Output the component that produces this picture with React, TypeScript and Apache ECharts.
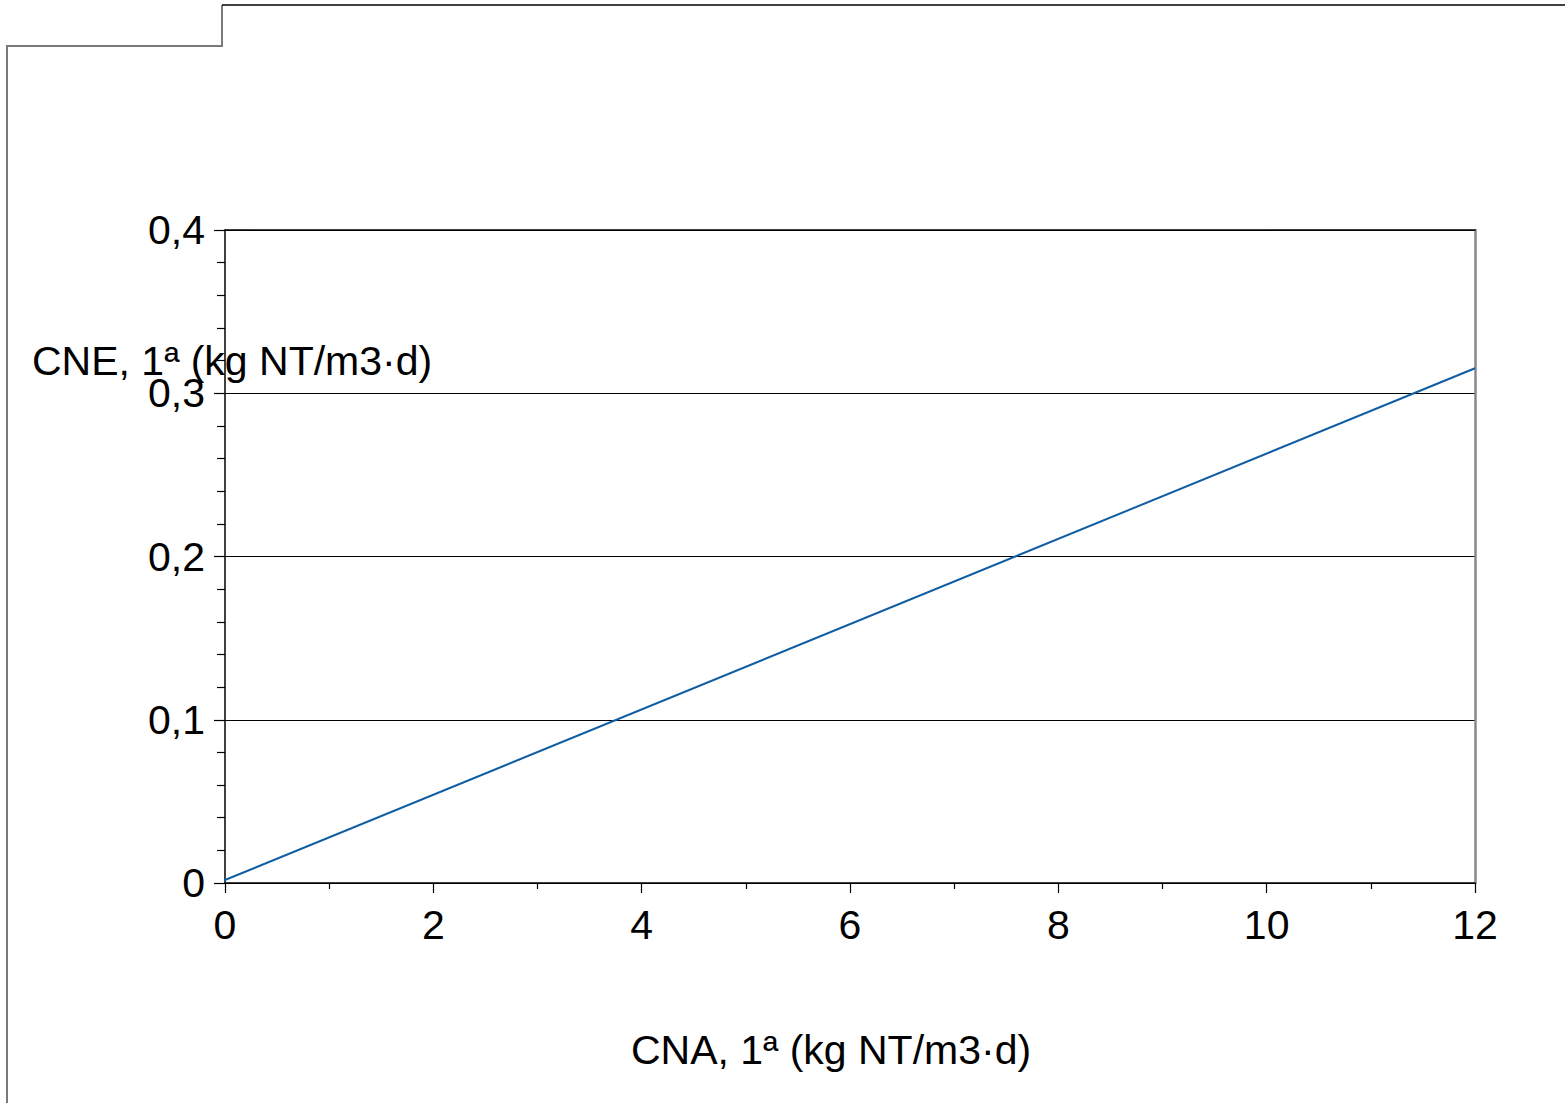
import React, { useEffect, useRef } from "react";
import * as echarts from "echarts";

const xTickLabels = ["0", "2", "4", "6", "8", "10", "12"];
const yTickLabels = ["0", "0,1", "0,2", "0,3", "0,4"];
const lineX = [-0.07, 12];
const lineY = [0, 0.3153];
const xTitle = "CNA, 1ª (kg NT/m3·d)";
const yTitle = "CNE, 1ª (kg NT/m3·d)";

const FONT = "'Liberation Sans', Arial, sans-serif";
const FS = 41;

export default function App() {
  const ref = useRef<HTMLDivElement>(null);
  useEffect(() => {
    if (!ref.current) return;
    const chart = echarts.init(ref.current, undefined, { renderer: "svg" });
    const data = lineX.map((x, i) => [x, lineY[i]]);
    chart.setOption({
      animation: false,
      backgroundColor: "#ffffff",
      grid: { left: 225, top: 230, right: 90, bottom: 220, containLabel: false },
      xAxis: [
        {
          type: "value",
          min: 0,
          max: 12,
          interval: 2,
          position: "bottom",
          axisLine: { show: true, onZero: false, lineStyle: { color: "#000", width: 1.5 } },
          axisTick: { show: true, length: 10, lineStyle: { color: "#000", width: 1.2 } },
          minorTick: { show: true, splitNumber: 2, length: 6, lineStyle: { color: "#000", width: 1.2 } },
          splitLine: { show: false },
          axisLabel: {
            margin: 21,
            fontSize: FS,
            fontFamily: FONT,
            color: "#000",
            formatter: (v: number) => xTickLabels[Math.round(v / 2)] ?? "",
          },
        },
        {
          type: "value",
          min: 0,
          max: 12,
          position: "top",
          axisLine: { show: true, onZero: false, lineStyle: { color: "#000", width: 1.5 } },
          axisTick: { show: false },
          axisLabel: { show: false },
          splitLine: { show: false },
        },
      ],
      yAxis: [
        {
          type: "value",
          min: 0,
          max: 0.4,
          interval: 0.1,
          position: "left",
          axisLine: { show: true, onZero: false, lineStyle: { color: "#000", width: 1.5 } },
          axisTick: { show: true, length: 11, lineStyle: { color: "#000", width: 1.2 } },
          minorTick: { show: true, splitNumber: 5, length: 8, lineStyle: { color: "#000", width: 1.2 } },
          splitLine: { show: true, lineStyle: { color: "#000", width: 1 } },
          axisLabel: {
            margin: 20,
            fontSize: FS,
            fontFamily: FONT,
            color: "#000",
            formatter: (v: number) => yTickLabels[Math.round(v * 10)] ?? "",
          },
        },
        {
          type: "value",
          min: 0,
          max: 0.4,
          position: "right",
          axisLine: { show: true, onZero: false, lineStyle: { color: "#888", width: 2.5 } },
          axisTick: { show: false },
          axisLabel: { show: false },
          splitLine: { show: false },
        },
      ],
      series: [
        {
          type: "line",
          data,
          xAxisIndex: 0,
          yAxisIndex: 0,
          clip: false,
          showSymbol: false,
          symbol: "none",
          lineStyle: { color: "#0f5ea3", width: 2 },
        },
      ],
      graphic: [
        {
          type: "polyline",
          shape: { points: [[7, 1103], [7, 46], [222, 46], [222, 5]] },
          style: { stroke: "#7a7a7a", lineWidth: 2, fill: "none" },
        },
        {
          type: "line",
          shape: { x1: 222, y1: 5, x2: 1565, y2: 5 },
          style: { stroke: "#000", lineWidth: 1.5 },
        },
        {
          type: "text",
          x: 32,
          y: 361,
          style: {
            text: yTitle,
            fontSize: FS,
            fontFamily: FONT,
            fill: "#000",
            textAlign: "left",
            textVerticalAlign: "middle",
          },
        },
        {
          type: "text",
          x: 831,
          y: 1050,
          style: {
            text: xTitle,
            fontSize: FS,
            fontFamily: FONT,
            fill: "#000",
            textAlign: "center",
            textVerticalAlign: "middle",
          },
        },
      ],
    });
    return () => chart.dispose();
  }, []);
  return (
    <div
      ref={ref}
      style={{ position: "absolute", left: 0, top: 0, width: 1565, height: 1103 }}
    />
  );
}
